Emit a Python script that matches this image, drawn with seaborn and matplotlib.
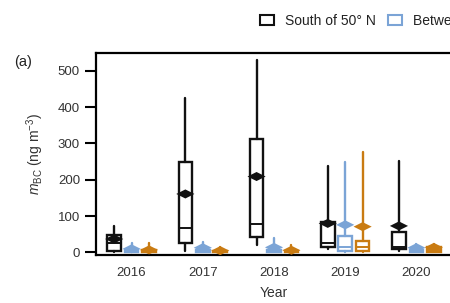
import matplotlib
matplotlib.use('Agg')
import matplotlib.pyplot as plt
from matplotlib.patches import Patch
from matplotlib.path import Path
import seaborn as sns
import pandas as pd
import numpy as np

# data (ng m^-3)
years = ['2016', '2017', '2018', '2019', '2020']
regions = ['South of 50° N', 'Between 50° N and 60° N', 'North of 60° N']
colors = ['#111111', '#7BA4D6', '#C97B12']

# per region: lists over years
whislo = {
    regions[0]: [2, 3, 21, 10, 5],
    regions[1]: [0, 0, 0, 0, 0],
    regions[2]: [0, 0, 0, 0, 0],
}
q1 = {
    regions[0]: [4, 27, 43, 16, 9],
    regions[1]: [1, 1, 1, 3, 1],
    regions[2]: [1, 1, 1, 3, 1],
}
med = {
    regions[0]: [27, 68, 79, 25, 16],
    regions[1]: [4, 4, 4, 16, 4],
    regions[2]: [3, 2, 2, 14, 6],
}
q3 = {
    regions[0]: [49, 250, 312, 85, 57],
    regions[1]: [8, 8, 8, 44, 8],
    regions[2]: [7, 5, 5, 32, 14],
}
whishi = {
    regions[0]: [73, 426, 529, 237, 251],
    regions[1]: [27, 29, 40, 248, 24],
    regions[2]: [27, 14, 21, 276, 24],
}
means = {
    regions[0]: [37, 161, 209, 80, 73],
    regions[1]: [10, 13, 14, 76, 13],
    regions[2]: [7, 5, 6, 71, 14],
}

sns.set_style('white')
plt.rcParams['font.family'] = ['Liberation Sans', 'DejaVu Sans']
plt.rcParams['mathtext.fontset'] = 'custom'
plt.rcParams['mathtext.it'] = 'Liberation Sans:italic'
plt.rcParams['mathtext.rm'] = 'Liberation Sans'

fig = plt.figure(figsize=(4.5, 3.03), dpi=100)
ax = fig.add_axes([96 / 450, 48 / 303, 356 / 450, 202 / 303])

offsets = [-0.245, 0.0, 0.245]
x_idx = np.arange(len(years))

rows = []
for r, reg in enumerate(regions):
    stats = []
    for i in range(len(years)):
        stats.append(dict(whislo=whislo[reg][i], q1=q1[reg][i], med=med[reg][i],
                          q3=q3[reg][i], whishi=whishi[reg][i], fliers=[]))
        rows.append(dict(x=x_idx[i] + offsets[r], mean=means[reg][i], region=reg))
    c = colors[r]
    ax.bxp(stats, positions=x_idx + offsets[r], widths=0.19, patch_artist=True,
           showfliers=False, showcaps=False,
           boxprops=dict(facecolor='white', edgecolor=c, linewidth=1.7),
           whiskerprops=dict(color=c, linewidth=1.7),
           medianprops=dict(color=c, linewidth=1.4))

df = pd.DataFrame(rows)
diamond = Path([(-1, 0), (0, 0.5), (1, 0), (0, -0.5), (-1, 0)],
               [Path.MOVETO, Path.LINETO, Path.LINETO, Path.LINETO, Path.CLOSEPOLY])
sns.scatterplot(data=df, x='x', y='mean', hue='region', palette=colors,
                marker=diamond, s=170, linewidth=0, legend=False, zorder=5, ax=ax)

ax.set_xlim(-0.5, 4.5)
ax.set_ylim(-7, 549)
ax.set_xticks(x_idx)
ax.set_xticklabels(years)
ax.set_xticks(np.arange(-0.5, 5.0, 1.0), minor=True)
ax.set_yticks([0, 100, 200, 300, 400, 500])
ax.tick_params(axis='x', which='major', length=0, pad=9, labelsize=9.5, labelcolor='#333333')
ax.tick_params(axis='x', which='minor', length=8, width=1.5, direction='out', color='black')
ax.tick_params(axis='y', length=8, width=1.5, direction='out', color='black',
               labelsize=9.5, labelcolor='#333333', left=True)
for side in ['left', 'bottom', 'top']:
    ax.spines[side].set_linewidth(1.6)
    ax.spines[side].set_color('black')
ax.spines['right'].set_visible(False)

ax.set_xlabel('Year', fontsize=10, color='#333333', labelpad=5)
ax.set_ylabel(r'$m_{\mathrm{BC}}$ (ng m$^{-3}$)', fontsize=10, color='#333333')
ax.yaxis.set_label_coords(-0.14, 0.5)

fig.text(14 / 450, 1 - 62 / 303, '(a)', fontsize=10.5, color='#222222', va='center', ha='left')

handles = [Patch(facecolor='white', edgecolor=c, linewidth=1.5) for c in colors]
fig.legend(handles, regions, loc='center left', bbox_to_anchor=(260 / 450, 1 - 21 / 303),
           ncol=3, frameon=False, fontsize=10, handlelength=1.0, handleheight=0.7,
           handletextpad=0.8, columnspacing=0.9, borderpad=0, borderaxespad=0,
           labelcolor='#222222')

fig.savefig('out.png', dpi=100)
